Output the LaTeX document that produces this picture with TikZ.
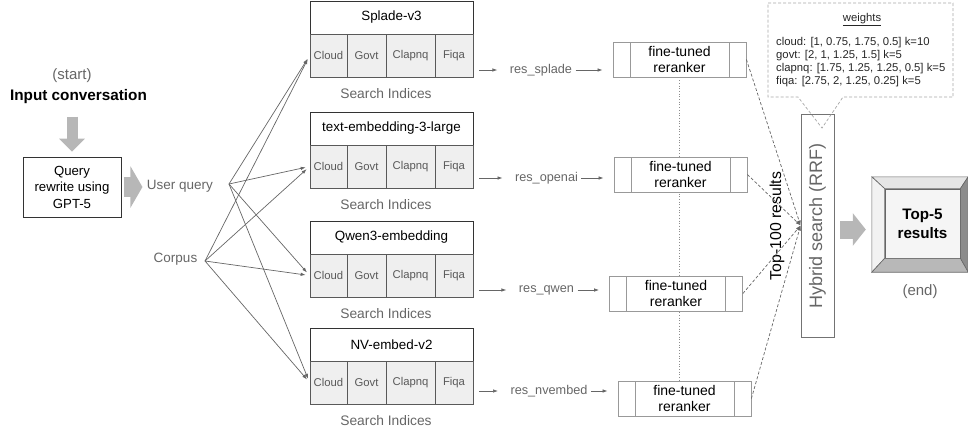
\documentclass[tikz,border=0pt]{standalone}
\usepackage{fontspec}
\setmainfont{Liberation Sans}
\usepackage{graphicx}
\usetikzlibrary{arrows.meta,backgrounds}
\definecolor{txtgray}{HTML}{666666}
\definecolor{cellfill}{HTML}{EFEFEF}
\definecolor{blockgray}{HTML}{B7B7B7}
\newcommand{\pxfont}[2]{\fontsize{#1}{#2}\selectfont}
\begin{document}
\begin{tikzpicture}[x=1pt,y=-1pt,
  lbl/.style={text=txtgray,font=\pxfont{13.5}{16}},
  title/.style={draw=black!80,line width=0.8pt,minimum width=163,minimum height=33,font=\pxfont{13.4}{16}},
  cell/.style={draw=black!65,fill=cellfill,line width=0.8pt,minimum height=43,text=black!65,font=\pxfont{11.3}{13}},
  rerank/.style={draw=black!40,fill=white,line width=0.8pt,minimum width=133,minimum height=35,align=center,font=\pxfont{14}{16},
    path picture={\draw[black!40,line width=0.8pt]
      ([xshift=17pt]path picture bounding box.south west) -- ([xshift=17pt]path picture bounding box.north west)
      ([xshift=-17pt]path picture bounding box.south east) -- ([xshift=-17pt]path picture bounding box.north east);}},
  link/.style={black!60,line width=0.7pt,-{Latex[length=5pt,width=3.5pt]}},
  dlink/.style={link,dash pattern=on 3pt off 2pt},
  bevel/.style={draw=black!60,line width=0.6pt},
  blk/.style={blockgray,-{Triangle[length=13pt,width=25pt]}}]
  \useasboundingbox (0,0) rectangle (968,434);

  \node[text=txtgray,font=\pxfont{15}{17}] (st) at (72,76) {(start)};
  \node[font=\bfseries\pxfont{15.3}{17}] (inp) at (78.5,97) {Input conversation};
  \node[draw=black!80,line width=0.8pt,minimum width=98,minimum height=60,align=center,font=\pxfont{13.2}{16.5}] (qry) at (72,187) {Query\\rewrite using\\GPT-5};
  \node[lbl] (uq) at (180,186) {User query};
  \node[lbl] (cp) at (175.5,259) {Corpus};
  \coordinate (uqj) at (229,184);
  \coordinate (cpj) at (205,261);
  \draw[blk,line width=11pt,shorten <=9pt,shorten >=5pt] (qry.north |- inp.south) -- (qry.north);
  \draw[blk,line width=20pt,-{Triangle[length=12pt,width=41pt]},shorten <=3pt,shorten >=1pt] (qry.east) -- (qry.east -| uq.west);

  \foreach \n/\ttl/\y in {1/Splade-v3/1,2/text-embedding-3-large/112,3/Qwen3-embedding/221,4/NV-embed-v2/328} {
    \node[title] (t\n) at (391.5,\y+16.5) {\ttl};
    \node[cell,minimum width=37] (cl\n) at (328.5,\y+54.5) {Cloud};
    \node[cell,minimum width=39] (gv\n) at (366.5,\y+54.5) {Govt};
    \node[cell,minimum width=49] (cq\n) at (410.5,\y+54.5) {Clapnq};
    \node[cell,minimum width=38] (fq\n) at (454,\y+54.5) {Fiqa};
    \node[lbl,font=\pxfont{13.8}{16}] (si\n) at (386,\y+93) {Search Indices};
    \draw[link,shorten >=4pt] (uqj) -- (cl\n.west);
    \draw[link,shorten >=4pt] (cpj) -- (cl\n.west);
  }

  \node[lbl,font=\pxfont{12.7}{15}] (res1) at (541,70) {res\_splade};
  \node[lbl,font=\pxfont{12.7}{15}] (res2) at (546.5,178) {res\_openai};
  \node[lbl,font=\pxfont{12.7}{15}] (res3) at (546.5,290) {res\_qwen};
  \node[lbl,font=\pxfont{12.7}{15}] (res4) at (549,391) {res\_nvembed};

  \node[rerank] (r1) at (679.5,59.5) {fine-tuned\\reranker};
  \node[rerank] (r2) at (680.5,174.5) {fine-tuned\\reranker};
  \node[rerank] (r3) at (676,293.5) {fine-tuned\\reranker};
  \node[rerank] (r4) at (684.5,398.5) {fine-tuned\\reranker};
  \begin{scope}[on background layer]
    \draw[black!45,dotted,line width=0.7pt] (r1.south) -- (r1.south |- r4.north);
  \end{scope}

  \node[draw=black!55,line width=0.8pt,minimum width=33,minimum height=223,text=txtgray,font=\pxfont{18}{20}] (hyb) at (817.5,225.5) {\rotatebox{90}{Hybrid search (RRF)}};
  \node[rotate=90,font=\pxfont{15.8}{18}] (t100) at (777,226) {Top-100 results};

  \foreach \n in {1,...,4} {
    \draw[link,shorten <=6pt,shorten >=9pt] (fq\n.east |- res\n) -- (res\n.west);
    \draw[link,shorten >=10pt] (res\n.east) -- (res\n.east -| r\n.west);
    \draw[dlink] (r\n.east) -- (hyb.west);
  }

  \draw[black!35,line width=0.7pt,dash pattern=on 3pt off 2pt] (768,3) -- (953,3) -- (953,97) -- (843,97) -- (822,128) -- (798,97) -- (768,97) -- cycle;
  \node[text=black!85,font=\pxfont{11.3}{13}] (wh) at (862,20) {\underline{weights}};
  \node[anchor=north west,align=left,inner sep=0,text=black!85,font=\pxfont{11.3}{13}] (wl) at (776,37)
    {cloud: [1, 0.75, 1.75, 0.5] k=10\\govt: [2, 1, 1.25, 1.5] k=5\\clapnq: [1.75, 1.25, 1.25, 0.5] k=5\\fiqa: [2.75, 2, 1.25, 0.25] k=5};

  \node[minimum width=96,minimum height=95] (tbox) at (920,224.5) {};
  \node[bevel,fill=black!4,minimum width=75,minimum height=69] (top) at (922.5,223.5) {};
  \filldraw[bevel,fill=black!10] (tbox.north west) -- (tbox.north east) -- (top.north east) -- (top.north west) -- cycle;
  \filldraw[bevel,fill=black!5] (tbox.north west) -- (top.north west) -- (top.south west) -- (tbox.south west) -- cycle;
  \filldraw[bevel,fill=black!45] (tbox.north east) -- (tbox.south east) -- (top.south east) -- (top.north east) -- cycle;
  \filldraw[bevel,fill=black!28] (tbox.south west) -- (tbox.south east) -- (top.south east) -- (top.south west) -- cycle;
  \node[align=center,font=\bfseries\pxfont{15.2}{19}] (toptxt) at (top) {Top-5\\results};
  \node[text=txtgray,font=\pxfont{15}{17}] (end) at (920,292) {(end)};
  \draw[blk,line width=18pt,-{Triangle[length=13pt,width=32pt]},shorten <=6pt,shorten >=6pt] ([yshift=-4pt]hyb.east) -- ([yshift=-4pt]hyb.east -| tbox.west);
\end{tikzpicture}
\end{document}
